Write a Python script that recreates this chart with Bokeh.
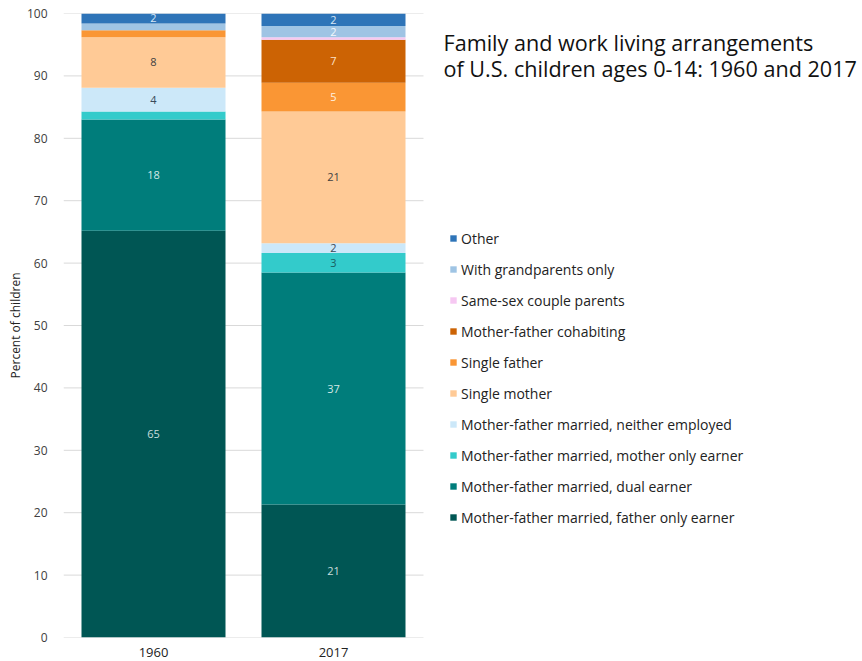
from bokeh.plotting import figure
from bokeh.models import (Legend, LegendItem, FixedTicker, ColumnDataSource,
                          Label, Range1d)
from bokeh.core.properties import value
from bokeh.embed import file_html
from bokeh.resources import INLINE

years = ["1960", "2017"]
categories = [
    "Mother-father married, father only earner",
    "Mother-father married, dual earner",
    "Mother-father married, mother only earner",
    "Mother-father married, neither employed",
    "Single mother",
    "Single father",
    "Mother-father cohabiting",
    "Same-sex couple parents",
    "With grandparents only",
    "Other",
]
values_1960 = [65.2, 17.8, 1.3, 3.8, 8.1, 1.1, 0.0, 0.0, 1.1, 1.6]
values_2017 = [21.3, 37.2, 3.1, 1.6, 21.1, 4.6, 6.9, 0.4, 1.8, 2.0]
y_ticks = [0, 10, 20, 30, 40, 50, 60, 70, 80, 90, 100]
title_lines = ["Family and work living arrangements",
               "of U.S. children ages 0-14: 1960 and 2017"]

colors = ["#005654", "#007D7B", "#33CBCB", "#CCE8F9", "#FFCA96",
          "#FA9634", "#CC6304", "#F6C8F2", "#9FC4E4", "#2E74B8"]
label_colors = ["#C8DEDC", "#D4E8E6", "#1A6060", "#3A4A5A", "#404040",
                "#FFF1E0", "#FCE2C8", "#404040", "#F4F8FC", "#D6E6F6"]

FONT = "Open Sans"

# layout (pixels)
W, H = 862, 661
LEFT, TOP, BOTTOM = 63, 13, 24
FRAME_W = W - LEFT
SLOT_PX = 180  # horizontal pixels per year slot

fields = ["s%d" % i for i in range(len(categories))]
xpos = [i + 0.5 for i in range(len(years))]
data = {"x": xpos}
for i, f in enumerate(fields):
    data[f] = [values_1960[i], values_2017[i]]
source = ColumnDataSource(data)

p = figure(x_range=Range1d(0, FRAME_W / SLOT_PX), y_range=Range1d(0, 100),
           width=W, height=H, output_backend="svg", toolbar_location=None,
           min_border_left=LEFT, min_border_right=0, min_border_top=TOP,
           min_border_bottom=BOTTOM)
p.outline_line_color = None

# gridlines only across the bar area
p.segment(x0=0, x1=len(years), y0=y_ticks, y1=y_ticks,
          line_color="#D9D9D9", line_width=1)

renderers = p.vbar_stack(fields, x="x", width=0.8, source=source,
                         color=colors, line_color=None)

# segment labels
lx, ly, lt, lc = [], [], [], []
for xp, vals in zip(xpos, [values_1960, values_2017]):
    bottom = 0.0
    for i, v in enumerate(vals):
        if v >= 1.5:
            lx.append(xp)
            ly.append(bottom + v / 2)
            lt.append(str(int(round(v))))
            lc.append(label_colors[i])
        bottom += v
p.text(x=lx, y=ly, text=lt, text_color=lc, text_align="center",
       text_baseline="middle", text_font_size="11px", text_font=value(FONT))

# axes
p.yaxis.ticker = FixedTicker(ticks=y_ticks)
p.yaxis.axis_line_color = None
p.yaxis.major_tick_line_color = None
p.yaxis.minor_tick_line_color = None
p.yaxis.major_label_standoff = 10
p.yaxis.major_label_text_font_size = "12px"
p.yaxis.major_label_text_color = "#404040"
p.yaxis.major_label_text_font = FONT
p.yaxis.axis_label = "Percent of children"
p.yaxis.axis_label_text_font_style = "normal"
p.yaxis.axis_label_text_font_size = "12px"
p.yaxis.axis_label_text_color = "#222222"
p.yaxis.axis_label_text_font = FONT
p.yaxis.axis_label_standoff = 0

p.xaxis.ticker = FixedTicker(ticks=xpos)
p.xaxis.major_label_overrides = {xp: yr for xp, yr in zip(xpos, years)}
p.xaxis.axis_line_color = None
p.xaxis.major_tick_line_color = None
p.xaxis.minor_tick_line_color = None
p.xaxis.major_label_standoff = 4
p.xaxis.major_label_text_font_size = "13px"
p.xaxis.major_label_text_color = "#222222"
p.xaxis.major_label_text_font = FONT

p.xgrid.grid_line_color = None
p.ygrid.grid_line_color = None

# legend (top = Other)
items = [LegendItem(label=categories[i], renderers=[renderers[i]])
         for i in reversed(range(len(categories)))]
legend = Legend(items=items, location=(386, 110), padding=0, margin=0,
                border_line_color=None, background_fill_alpha=0,
                glyph_width=8, glyph_height=8, label_height=20,
                spacing=11, label_standoff=4,
                label_text_font_size="14px", label_text_font=FONT,
                label_text_color="#222222")
p.add_layout(legend, "center")

# title
for txt, base in zip(title_lines, [41.7, 68.0]):
    p.add_layout(Label(x=443 - LEFT, y=(H - BOTTOM) - base,
                       x_units="screen", y_units="screen",
                       text=txt, text_font=FONT, text_font_size="21.6px",
                       text_color="#111111", text_baseline="alphabetic"))

open("out.html", "w").write(file_html(p, INLINE))
